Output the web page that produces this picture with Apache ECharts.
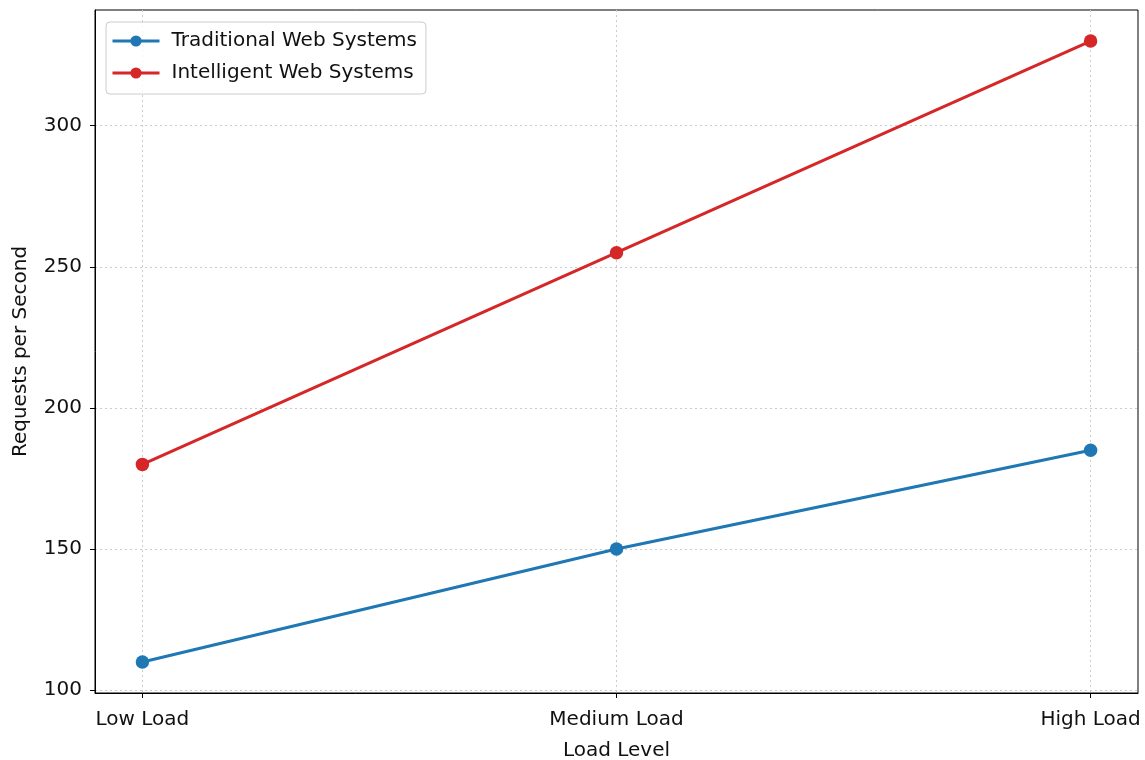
<!DOCTYPE html>
<html>
<head>
<meta charset="utf-8">
<script src="https://cdn.jsdelivr.net/npm/echarts@6/dist/echarts.min.js"></script>
<style>html,body{margin:0;padding:0;background:#fff}#c{width:1145px;height:760px}</style>
</head>
<body>
<div id="c"></div>
<script>
const categories = ['Low Load', 'Medium Load', 'High Load'];
const traditional = [110, 150, 185];
const intelligent = [180, 255, 330];
const yTicks = [100, 150, 200, 250, 300];

const font = 'DejaVu Sans';
const chart = echarts.init(document.getElementById('c'), null, {renderer: 'canvas'});
const toPairs = arr => arr.map((v, i) => [i, v]);
chart.setOption({
  animation: false,
  backgroundColor: '#fff',
  grid: {left: 95, right: 7, top: 10, bottom: 67, show: true, borderColor: '#000', borderWidth: 1,
    containLabel: false, outerBoundsMode: 'none'},
  legend: {
    left: 106, top: 22, orient: 'vertical',
    data: ['Traditional Web Systems', 'Intelligent Web Systems'],
    backgroundColor: 'rgba(255,255,255,0.8)', borderColor: '#cccccc', borderWidth: 1, borderRadius: 4,
    padding: [9, 9, 11, 5], itemGap: 12, itemWidth: 47, itemHeight: 14,
    lineStyle: {width: 3},
    textStyle: {fontFamily: font, fontSize: 20, color: '#111', padding: [0, 0, 0, 7]}
  },
  xAxis: {
    type: 'value', min: -0.1, max: 2.1,
    name: 'Load Level', nameLocation: 'middle', nameGap: 48,
    nameTextStyle: {fontFamily: font, fontSize: 20, color: '#111'},
    axisLine: {show: true, onZero: false, lineStyle: {color: '#000', width: 1}},
    axisTick: {show: true, length: 5, lineStyle: {color: '#000'}, customValues: [0, 1, 2]},
    axisLabel: {fontFamily: font, fontSize: 20, color: '#111', margin: 17, customValues: [0, 1, 2],
      formatter: v => categories[Math.round(v)]},
    splitLine: {show: true, lineStyle: {color: '#cccccc', type: [2, 3], width: 1}}
  },
  yAxis: {
    type: 'value', min: 99, max: 341,
    name: 'Requests per Second', nameLocation: 'middle', nameGap: 64,
    nameTextStyle: {fontFamily: font, fontSize: 20, color: '#111'},
    axisLine: {show: true, onZero: false, lineStyle: {color: '#000', width: 1}},
    axisTick: {show: true, length: 5, lineStyle: {color: '#000'}, customValues: yTicks},
    axisLabel: {fontFamily: font, fontSize: 20, color: '#111', margin: 13, customValues: yTicks},
    splitLine: {show: true, lineStyle: {color: '#cccccc', type: [2, 3], width: 1}}
  },
  series: [
    {name: 'Traditional Web Systems', type: 'line', data: toPairs(traditional),
     color: '#1f77b4', symbol: 'circle', symbolSize: 13.5,
     lineStyle: {width: 3}, itemStyle: {color: '#1f77b4'}},
    {name: 'Intelligent Web Systems', type: 'line', data: toPairs(intelligent),
     color: '#d62728', symbol: 'circle', symbolSize: 13.5,
     lineStyle: {width: 3}, itemStyle: {color: '#d62728'}}
  ]
});
</script>
</body>
</html>
